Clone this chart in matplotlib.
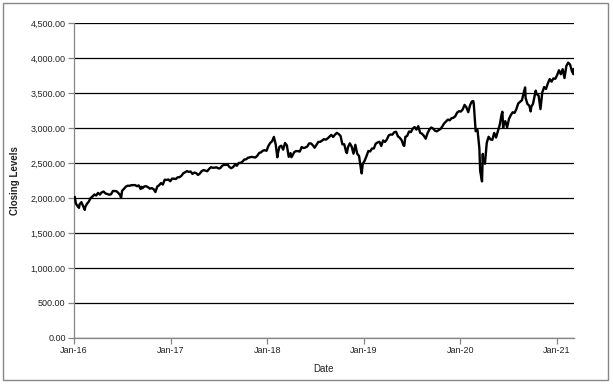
import numpy as np
import pandas as pd
import matplotlib
matplotlib.use("Agg")
import matplotlib.pyplot as plt
import matplotlib.dates as mdates
from matplotlib.patches import Rectangle
from matplotlib.ticker import FuncFormatter

# weekly (friday) closing levels, Jan-16 .. Mar-21
week_start = "2016-01-08"
week_end = "2021-03-05"
closes_2016 = [1922, 1880, 1907, 1940, 1880, 1865, 1917, 1948, 1999, 2022, 2050, 2035,
               2073, 2048, 2081, 2092, 2065, 2057, 2047, 2052, 2099, 2099, 2096, 2071,
               2037, 2103, 2130, 2162, 2175, 2174, 2183, 2184, 2184, 2169, 2180, 2128,
               2139, 2165, 2168, 2153, 2133, 2141, 2126, 2085, 2164, 2182, 2213, 2192,
               2260, 2258, 2264, 2239]
closes_2017 = [2277, 2275, 2271, 2295, 2297, 2316, 2351, 2367, 2383, 2373, 2378, 2344,
               2363, 2355, 2329, 2349, 2384, 2399, 2391, 2382, 2416, 2439, 2432, 2433,
               2438, 2423, 2425, 2459, 2473, 2472, 2477, 2441, 2426, 2443, 2476, 2461,
               2500, 2502, 2519, 2549, 2553, 2575, 2581, 2587, 2582, 2578, 2602, 2642,
               2652, 2675, 2683, 2674]
closes_2018 = [2743, 2786, 2810, 2873, 2762, 2620, 2732, 2747, 2691, 2786, 2752, 2588,
               2641, 2604, 2656, 2670, 2670, 2663, 2728, 2713, 2721, 2735, 2779, 2780,
               2755, 2718, 2760, 2801, 2802, 2819, 2840, 2833, 2850, 2875, 2902, 2872,
               2905, 2930, 2914, 2886, 2767, 2768, 2659, 2723, 2781, 2736, 2633, 2760,
               2633, 2600, 2417, 2486]
closes_2019 = [2532, 2596, 2671, 2665, 2707, 2708, 2776, 2793, 2804, 2743, 2822, 2801,
               2834, 2893, 2907, 2905, 2940, 2946, 2881, 2860, 2826, 2752, 2873, 2887,
               2950, 2942, 2990, 3014, 2977, 3026, 2932, 2919, 2889, 2847, 2926, 2979,
               3007, 2992, 2962, 2952, 2970, 2986, 3023, 3067, 3093, 3120, 3110, 3141,
               3146, 3169, 3221, 3240]
closes_2020 = [3235, 3265, 3330, 3295, 3226, 3328, 3380, 3338, 2954, 2972, 2711, 2305,
               2541, 2489, 2790, 2875, 2837, 2831, 2930, 2864, 2955, 3044, 3194, 3041,
               3098, 3009, 3130, 3185, 3225, 3216, 3271, 3351, 3373, 3397, 3508, 3427,
               3341, 3319, 3298, 3348, 3477, 3483, 3465, 3270, 3510, 3585, 3558, 3638,
               3699, 3663, 3709, 3703]
closes_2021 = [3756, 3825, 3768, 3841, 3714, 3887, 3934, 3907, 3811, 3842]

# intraweek highs/lows that stand out on the chart
extra_dates = ["2016-01-04", "2016-01-20", "2016-02-11", "2016-06-27", "2016-09-12",
               "2018-02-08", "2018-04-02", "2018-10-29", "2018-12-24", "2019-06-03",
               "2020-02-19", "2020-03-16", "2020-03-23", "2020-03-26", "2020-06-08",
               "2020-06-11", "2020-09-02", "2020-09-23", "2020-10-12", "2021-01-27",
               "2021-03-04"]
extra_closes = [2012, 1859, 1829, 2000, 2159,
                2581, 2582, 2641, 2351, 2744,
                3386, 2386, 2237, 2630, 3232,
                3002, 3580, 3237, 3534, 3751,
                3768]

yticks = np.arange(0, 4501, 500)
grey = "#868686"

weekly = (closes_2016 + closes_2017 + closes_2018 + closes_2019 + closes_2020
          + closes_2021)
wk_dates = pd.date_range(week_start, week_end, freq="W-FRI")
n = min(len(wk_dates), len(weekly))
ser = pd.concat([pd.Series(weekly[:n], index=wk_dates[:n]),
                 pd.Series(extra_closes, index=pd.to_datetime(extra_dates))]).sort_index()

plt.rcParams['font.family'] = ['Liberation Sans', 'DejaVu Sans']

fig = plt.figure(figsize=(6.13, 3.84), dpi=100)
ax = fig.add_axes([0.1207, 0.120, 0.8153, 0.820])

ax.plot(ser.index, ser.values, color="black", lw=1.7, zorder=3)

ax.set_ylim(0, 4500)
ax.set_yticks(yticks)
ax.yaxis.set_major_formatter(FuncFormatter(lambda v, p: "{:,.2f}".format(v)))
ax.grid(axis="y", color="black", lw=0.9)
ax.set_axisbelow(True)

ax.set_xlim(pd.Timestamp("2016-01-01"), pd.Timestamp("2021-03-05"))
ax.xaxis.set_major_locator(mdates.YearLocator())
ax.xaxis.set_major_formatter(mdates.DateFormatter("%b-%y"))

for s in ["top", "right"]:
    ax.spines[s].set_visible(False)
for s in ["left", "bottom"]:
    ax.spines[s].set_color(grey)
    ax.spines[s].set_linewidth(0.9)
ax.tick_params(axis="both", colors=grey, length=4, width=0.9, labelsize=6.5,
               labelcolor="#222222", pad=2)

ax.set_xlabel("Date", fontsize=7, color="#222222", labelpad=6)
ax.set_ylabel("Closing Levels", fontsize=7, color="#222222", fontweight="bold", labelpad=8)

fig.patches.append(Rectangle((0.005, 0.0104), 0.987, 0.9816, transform=fig.transFigure,
                             fill=False, edgecolor=grey, lw=1.0))

fig.savefig("out.png", dpi=100)
